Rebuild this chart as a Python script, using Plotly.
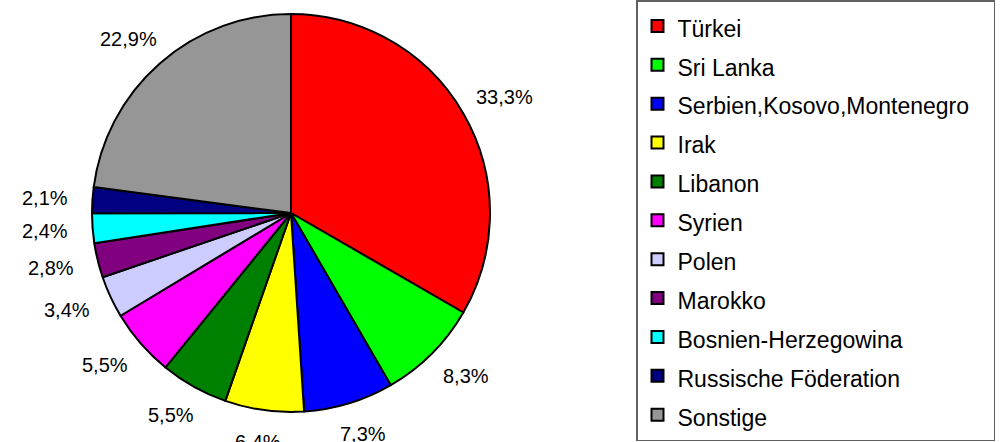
import math
import plotly.graph_objects as go

W, H = 1008, 442

countries = ['Türkei', 'Sri Lanka', 'Serbien,Kosovo,Montenegro', 'Irak', 'Libanon',
             'Syrien', 'Polen', 'Marokko', 'Bosnien-Herzegowina',
             'Russische Föderation', 'Sonstige']
shares = [33.3, 8.3, 7.3, 6.4, 5.5, 5.5, 3.4, 2.8, 2.4, 2.1, 22.9]
colors = ['#FF0000', '#00FF00', '#0000FF', '#FFFF00', '#008000', '#FF00FF',
          '#CCCCFF', '#800080', '#00FFFF', '#000080', '#969696']

# pie geometry in pixels
cx, cy, R = 291, 213, 199

# legend rows are taller than the text in the original -> bigger legend font,
# smaller text inside a span (trailing nbsp gives the right-hand padding)
legend_labels = ['<span style="font-size:23px">%s&nbsp;&nbsp;&nbsp;</span>' % c
                 for c in countries]

fig = go.Figure()
fig.add_trace(go.Pie(
    labels=legend_labels, values=shares,
    sort=False, direction='clockwise', rotation=0,
    marker=dict(colors=colors, line=dict(color='black', width=2)),
    textinfo='none', hovertext=countries, hoverinfo='text+percent',
    domain=dict(x=[(cx - R) / W, (cx + R) / W],
                y=[1 - (cy + R) / H, 1 - (cy - R) / H])))

# percentage labels outside the slices, like the spreadsheet original
total = sum(shares)
cum = 0
for v in shares:
    mid = (cum + v / 2) / total * 2 * math.pi
    cum += v
    s, c = math.sin(mid), math.cos(mid)
    r = R + 22
    px = cx + r * s + 26 * s
    py = cy - r * c - 10 * c
    fig.add_annotation(
        x=px / W, y=1 - py / H, xref='paper', yref='paper',
        text=('%.1f%%' % v).replace('.', ','), showarrow=False,
        xanchor='center', yanchor='middle',
        font=dict(size=20, color='black'))

fig.update_layout(
    width=W, height=H,
    margin=dict(l=0, r=0, t=0, b=0),
    paper_bgcolor='white', plot_bgcolor='white',
    font=dict(family='Liberation Sans, Arial, sans-serif', color='black'),
    showlegend=True,
    legend=dict(
        x=636 / W, y=1, xanchor='left', yanchor='top',
        bordercolor='#606060', borderwidth=1.5, bgcolor='white',
        font=dict(size=27.6, color='black'), itemwidth=30,
        maxheight=470, traceorder='normal'))

fig.write_html("out.html", config={'displayModeBar': False},
               post_script="document.body.style.margin='0';")
